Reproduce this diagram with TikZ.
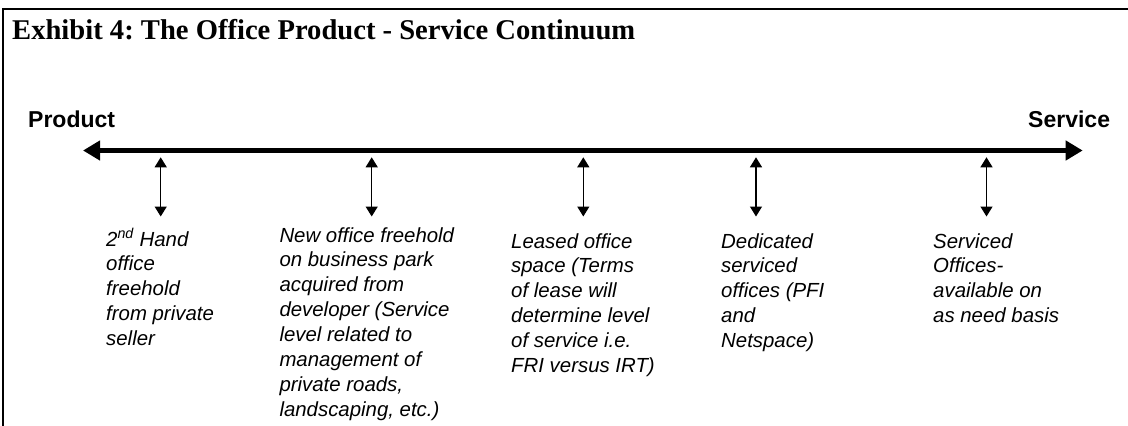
\documentclass[tikz,border=0pt]{standalone}
\usepackage{fontspec}
\setmainfont{Liberation Serif}
\newfontfamily\arialfont{Liberation Sans}
\usetikzlibrary{arrows.meta}
\frenchspacing
\newcommand{\desclines}[1]{\begin{tabular}[t]{@{}l@{}}#1\end{tabular}}
\begin{document}
\begin{tikzpicture}[x=1pt,y=-1pt,
  frame/.style={line width=2.5pt, line join=miter},
  mainaxis/.style={line width=4.5pt, {Triangle[length=17pt,width=19pt]}-{Triangle[length=17pt,width=19pt]}},
  tick/.style={line width=1.3pt, {Triangle[length=10pt,width=12pt]}-{Triangle[length=10pt,width=12pt]}},
  endlabel/.style={anchor=base west, inner sep=0pt, font=\arialfont\bfseries\fontsize{23}{27}\selectfont},
  desc/.style={anchor=base west, inner sep=0pt, font=\arialfont\itshape\fontsize{20.4}{24.9}\selectfont},
  exhibit/.style={anchor=base west, inner sep=0pt, font=\bfseries\fontsize{28.6}{32}\selectfont}]
\useasboundingbox (0,0) rectangle (1128,426);
% frame
\coordinate (fbl) at (3,427);
\coordinate (ftr) at (1129,9);
\draw[frame] (fbl) |- (ftr);
% title
\node[exhibit] (title) at (12,39) {Exhibit 4: The Office Product - Service Continuum};
% end labels
\node[endlabel] (product) at (28,127.3) {Product};
\node[endlabel] (service) at (1028,127.3) {Service};
% main axis
\coordinate (pL) at (83,150.5);
\coordinate (pR) at (1082.7,150.5);
\draw[mainaxis] (pL) -- (pR);
% ticks
\foreach \i/\x in {1/160.7,2/371.7,3/583.3,4/756,5/986.5}{
  \coordinate (t\i) at (\x,157.3);
  \coordinate (b\i) at (\x,216.5);
  \draw[tick] (t\i) -- (b\i);
}
% descriptions
\node[desc] (d1) at (106,246) {\desclines{2\textsuperscript{nd} Hand\\office\\freehold\\from private\\seller}};
\node[desc] (d2) at (279.3,242) {\desclines{New office freehold\\on business park\\acquired from\\developer (Service\\level related to\\management of\\private roads,\\landscaping, etc.)}};
\node[desc] (d3) at (511,248) {\desclines{Leased office\\space (Terms\\of lease will\\determine level\\of service i.e.\\FRI versus IRT)}};
\node[desc] (d4) at (721,248) {\desclines{Dedicated\\serviced\\offices (PFI\\and\\Netspace)}};
\node[desc] (d5) at (933,248) {\desclines{Serviced\\Offices-\\available on\\as need basis}};
\end{tikzpicture}
\end{document}
